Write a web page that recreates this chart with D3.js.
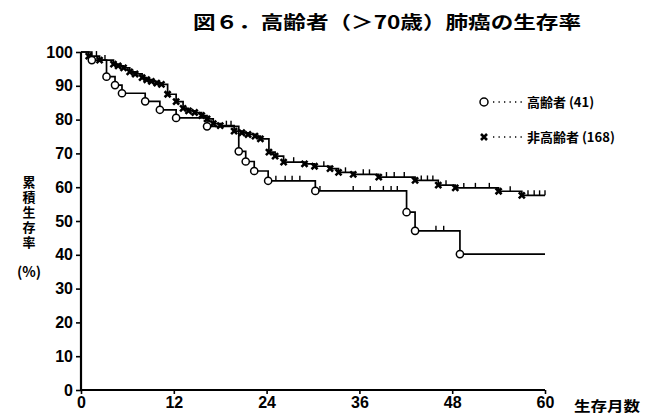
<!DOCTYPE html>
<html>
<head>
<meta charset="utf-8">
<script src="https://cdn.jsdelivr.net/npm/d3@7"></script>
<style>
  html, body { margin: 0; padding: 0; background: #fff; }
  svg { display: block; }
  .num { font-family: "Liberation Sans Narrow", "Arial Narrow", "Liberation Sans", sans-serif; font-weight: bold; }
  .jp { font-family: "Noto Sans CJK JP", "Noto Sans CJK SC", sans-serif; font-weight: bold; }
</style>
</head>
<body>
<svg id="chart" width="645" height="414"></svg>
<script>
// Axis ticks
const monthTicks = [0, 12, 24, 36, 48, 60];
const pctTicks = [0, 10, 20, 30, 40, 50, 60, 70, 80, 90, 100];

// 高齢者 (41): death times (months) and cumulative survival (%) after each death
const elderlyTimes = [1.4, 3.3, 4.4, 5.3, 8.3, 10.2, 12.3, 16.3, 20.4, 21.3, 22.4, 24.2, 30.3, 42.1, 43.2, 49.0];
const elderlySurv  = [97.6, 92.7, 90.2, 87.8, 85.4, 82.9, 80.5, 78.0, 70.6, 67.6, 64.8, 61.9, 58.9, 52.6, 47.1, 40.2];
const elderlyCensor = [25.2, 26.4, 27.3, 28.3, 30.9, 35.2, 37.4, 39.1, 40.1, 40.9, 45.9, 46.9];

// 非高齢者 (168)
const otherTimes = [1.0, 2.4, 4.2, 4.8, 5.5, 6.3, 7.0, 7.9, 8.5, 9.1, 9.8, 10.4, 11.2, 12.3, 13.2, 13.9, 14.7, 15.6, 16.3, 17.1, 18.0, 19.8, 20.8, 21.6, 22.5, 23.2, 24.3, 25.1, 26.2, 28.9, 30.2, 32.2, 33.3, 35.2, 38.5, 43.2, 46.2, 48.4, 54.0, 57.0];
const otherSurv  = [98.8, 97.6, 96.4, 95.9, 95.3, 94.1, 93.5, 92.4, 91.8, 91.3, 90.8, 90.4, 87.5, 85.3, 83.3, 82.6, 82.1, 81.2, 80.2, 78.8, 78.2, 76.6, 76.1, 75.6, 75.1, 74.3, 70.4, 69.2, 67.4, 66.9, 66.2, 65.5, 64.4, 63.8, 63.0, 62.0, 60.6, 59.8, 58.8, 57.6];
const otherCensor = [2.0, 3.1, 18.8, 19.4, 27.5, 31.4, 34.2, 36.5, 37.3, 39.5, 40.5, 41.8, 44.0, 44.8, 45.5, 47.2, 49.5, 51.0, 52.8, 55.5, 57.8, 58.6, 59.3, 60.0];

const legendLabels = ["高齢者 (41)", "非高齢者 (168)"];

const svg = d3.select("#chart");
const x = d3.scaleLinear().domain([0, 60]).range([81, 545]);
const y = d3.scaleLinear().domain([0, 100]).range([390, 52]);

// Title
svg.append("text").attr("class", "jp")
  .attr("x", 193).attr("y", 29)
  .attr("font-size", 18)
  .attr("textLength", 388).attr("lengthAdjust", "spacingAndGlyphs")
  .text("図６．高齢者（＞70歳）肺癌の生存率");

// Axes
const yAxis = svg.append("g").attr("transform", `translate(${x(0)},0)`)
  .call(d3.axisLeft(y).tickValues(pctTicks).tickSize(5).tickPadding(3));
const xAxis = svg.append("g").attr("transform", `translate(0,${y(0)})`)
  .call(d3.axisBottom(x).tickValues(monthTicks).tickSize(4).tickPadding(3));
[yAxis, xAxis].forEach(g => {
  g.select(".domain").attr("stroke", "#000").attr("stroke-width", 2.2);
  g.selectAll(".tick line").attr("stroke", "#000").attr("stroke-width", 1.6);
  g.selectAll(".tick text").attr("class", "num").attr("font-size", 16).attr("fill", "#000");
});
yAxis.select(".domain").attr("d", `M0,${y(100)}V${y(0)}`);
xAxis.select(".domain").attr("d", `M${x(0)},0H${x(60)}`);

// Axis titles
svg.append("text").attr("class", "jp").attr("x", 574).attr("y", 411)
  .attr("font-size", 14).attr("textLength", 66).attr("lengthAdjust", "spacingAndGlyphs")
  .text("生存月数");
// vertical y-axis title, one character per line
svg.append("text").attr("class", "jp")
  .attr("x", 29).attr("y", 176)
  .attr("font-size", 13)
  .style("writing-mode", "vertical-rl")
  .style("text-orientation", "upright")
  .attr("letter-spacing", 1.8)
  .text("累積生存率");
svg.append("text").attr("class", "jp").attr("x", 29).attr("y", 277)
  .attr("text-anchor", "middle").attr("font-size", 14).text("(%)");

// Kaplan–Meier step curves
function stepData(times, surv) {
  const pts = [[0, 100]];
  times.forEach((t, i) => pts.push([t, surv[i]]));
  pts.push([60, surv[surv.length - 1]]);
  return pts;
}
function survAt(times, surv, t) {
  let s = 100;
  times.forEach((tt, i) => { if (tt <= t) s = surv[i]; });
  return s;
}
const line = d3.line().x(d => x(d[0])).y(d => y(d[1])).curve(d3.curveStepAfter);

const curves = [
  { times: otherTimes, surv: otherSurv, censor: otherCensor, mark: "cross" },
  { times: elderlyTimes, surv: elderlySurv, censor: elderlyCensor, mark: "circle" }
];

curves.forEach(c => {
  const g = svg.append("g");
  g.append("path").attr("d", line(stepData(c.times, c.surv)))
    .attr("fill", "none").attr("stroke", "#000").attr("stroke-width", 1.7);
  // censored observations
  g.selectAll("line.censor").data(c.censor).join("line")
    .attr("x1", d => x(d)).attr("x2", d => x(d))
    .attr("y1", d => y(survAt(c.times, c.surv, d)))
    .attr("y2", d => y(survAt(c.times, c.surv, d)) - 5)
    .attr("stroke", "#000").attr("stroke-width", 1.4);
  // deaths
  const pts = c.times.map((t, i) => [t, c.surv[i]]);
  if (c.mark === "circle") {
    g.selectAll("circle").data(pts).join("circle")
      .attr("cx", d => x(d[0])).attr("cy", d => y(d[1])).attr("r", 3.6)
      .attr("fill", "#fff").attr("stroke", "#000").attr("stroke-width", 1.5);
  } else {
    g.selectAll("path.x").data(pts).join("path")
      .attr("d", d => {
        const cx = x(d[0]), cy = y(d[1]), r = 3;
        return `M${cx - r},${cy - r}L${cx + r},${cy + r}M${cx - r},${cy + r}L${cx + r},${cy - r}`;
      })
      .attr("stroke", "#000").attr("stroke-width", 2.6);
  }
});

// Legend
const legend = svg.append("g");
const ly = [102, 137];
legend.append("circle").attr("cx", 484).attr("cy", ly[0]).attr("r", 4)
  .attr("fill", "#fff").attr("stroke", "#000").attr("stroke-width", 1.5);
legend.append("path").attr("d", `M${484 - 3},${ly[1] - 3}L${484 + 3},${ly[1] + 3}M${484 - 3},${ly[1] + 3}L${484 + 3},${ly[1] - 3}`)
  .attr("stroke", "#000").attr("stroke-width", 2.6);
ly.forEach((yy, i) => {
  legend.append("line").attr("x1", 493).attr("x2", 525).attr("y1", yy).attr("y2", yy)
    .attr("stroke", "#000").attr("stroke-width", 1.3).attr("stroke-dasharray", "1.3,4.2");
  legend.append("text").attr("class", "jp").attr("x", 527).attr("y", yy + 5)
    .attr("font-size", 13).text(legendLabels[i]);
});
</script>
</body>
</html>
